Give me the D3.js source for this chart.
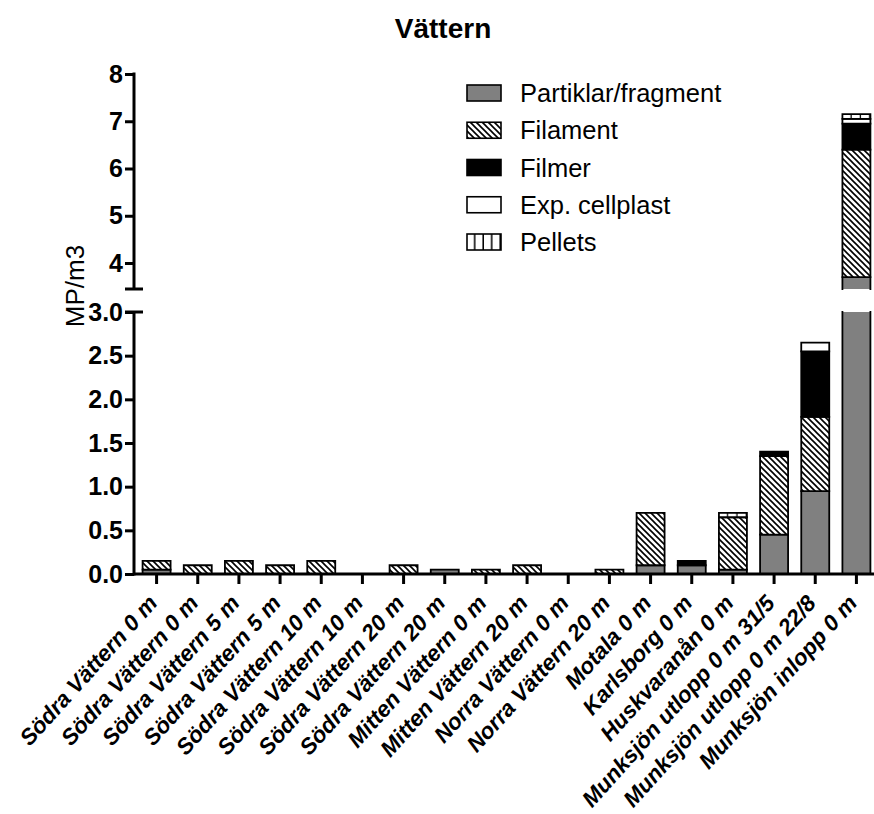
<!DOCTYPE html>
<html>
<head>
<meta charset="utf-8">
<script src="https://cdn.jsdelivr.net/npm/d3@7"></script>
<style>
  html, body { margin: 0; padding: 0; background: #fff; }
  svg { display: block; font-family: "Liberation Sans", Arial, sans-serif; }
</style>
</head>
<body>
<svg id="chart" width="874" height="814"></svg>
<script>
const title = "Vättern";
const yLabel = "MP/m3";
const categories = [
  "Södra Vättern 0 m", "Södra Vättern 0 m", "Södra Vättern 5 m", "Södra Vättern 5 m",
  "Södra Vättern 10 m", "Södra Vättern 10 m", "Södra Vättern 20 m", "Södra Vättern 20 m",
  "Mitten Vättern 0 m", "Mitten Vättern 20 m", "Norra Vättern 0 m", "Norra Vättern 20 m",
  "Motala 0 m", "Karlsborg 0 m", "Huskvaranån 0 m", "Munksjön utlopp 0 m 31/5",
  "Munksjön utlopp 0 m 22/8", "Munksjön inlopp 0 m"
];
const seriesNames = ["Partiklar/fragment", "Filament", "Filmer", "Exp. cellplast", "Pellets"];
const partiklar = [0.05, 0, 0, 0, 0, 0, 0, 0.05, 0, 0, 0, 0, 0.1, 0.1, 0.05, 0.45, 0.95, 3.7];
const filament  = [0.1, 0.1, 0.15, 0.1, 0.15, 0, 0.1, 0, 0.05, 0.1, 0, 0.05, 0.6, 0, 0.6, 0.9, 0.85, 2.7];
const filmer    = [0, 0, 0, 0, 0, 0, 0, 0, 0, 0, 0, 0, 0, 0.05, 0, 0.05, 0.75, 0.55];
const cellplast = [0, 0, 0, 0, 0, 0, 0, 0, 0, 0, 0, 0, 0, 0, 0, 0, 0.1, 0.1];
const pellets   = [0, 0, 0, 0, 0, 0, 0, 0, 0, 0, 0, 0, 0, 0, 0.05, 0, 0, 0.1];
const lowTicks = [0, 0.5, 1, 1.5, 2, 2.5, 3];
const highTicks = [4, 5, 6, 7, 8];
const lowDomain = [0, 3];
const highDomain = [3.45, 8];

const svg = d3.select("#chart");
const defs = svg.append("defs");

// hatch pattern (\\\\)
const hatch = defs.append("pattern").attr("id", "hatch")
  .attr("patternUnits", "userSpaceOnUse").attr("width", 6).attr("height", 6);
hatch.append("rect").attr("width", 6).attr("height", 6).attr("fill", "#fff");
hatch.append("path").attr("d", "M-1,-1 L7,7 M-4,2 L2,8 M4,-2 L10,4")
  .attr("stroke", "#000").attr("stroke-width", 1.6);

function pelletPattern(id, n) {
  const p = defs.append("pattern").attr("id", id)
    .attr("patternUnits", "objectBoundingBox").attr("patternContentUnits", "objectBoundingBox")
    .attr("width", 1 / n).attr("height", 1);
  p.append("rect").attr("width", 1 / n).attr("height", 1).attr("fill", "#fff");
  p.append("rect").attr("x", 1 / n - 0.045).attr("width", 0.045).attr("height", 1).attr("fill", "#000");
}
pelletPattern("pellets3", 3);
pelletPattern("pellets4", 4);

const fills = ["#808080", "url(#hatch)", "#000000", "#ffffff", "url(#pellets3)"];
const legendFills = ["#808080", "url(#hatch)", "#000000", "#ffffff", "url(#pellets4)"];

const axisX = 134;
const x = d3.scaleBand().domain(d3.range(categories.length)).range([axisX + 2, 877]).paddingInner(0.32).paddingOuter(0.16);
const yLow = d3.scaleLinear().domain(lowDomain).range([574, 312]);
const yHigh = d3.scaleLinear().domain(highDomain).range([289, 74]);

const series = [partiklar, filament, filmer, cellplast, pellets];
const rows = categories.map((c, i) => {
  const o = { i };
  seriesNames.forEach((s, k) => o[s] = series[k][i]);
  return o;
});
const stack = d3.stack().keys(seriesNames)(rows);

const barsG = svg.append("g");
stack.forEach((layer, k) => {
  layer.forEach((d, i) => {
    const v0 = d[0], v1 = d[1];
    if (v1 - v0 <= 0) return;
    const segs = [];
    if (v0 < lowDomain[1]) segs.push({ s: yLow, a: v0, b: Math.min(v1, lowDomain[1]), clipTop: v1 > lowDomain[1], clipBot: false });
    if (v1 > highDomain[0]) segs.push({ s: yHigh, a: Math.max(v0, highDomain[0]), b: v1, clipTop: false, clipBot: v0 < highDomain[0] });
    segs.forEach(sg => {
      const x0 = x(i), w = x.bandwidth();
      const yt = sg.s(sg.b), yb = sg.s(sg.a);
      barsG.append("rect").attr("x", x0).attr("y", yt).attr("width", w).attr("height", yb - yt)
        .attr("fill", fills[k]);
      let p = `M${x0},${yt}L${x0},${yb}M${x0 + w},${yt}L${x0 + w},${yb}`;
      if (!sg.clipTop) p += `M${x0},${yt}L${x0 + w},${yt}`;
      if (!sg.clipBot) p += `M${x0},${yb}L${x0 + w},${yb}`;
      barsG.append("path").attr("d", p).attr("stroke", "#000").attr("stroke-width", 1.8)
        .attr("fill", "none").attr("stroke-linecap", "square");
    });
  });
});

// Axes
const lw = 3;
function styleAxis(g) {
  g.select(".domain").remove();
  g.selectAll(".tick line").attr("stroke", "#000").attr("stroke-width", lw);
  g.selectAll(".tick text").attr("fill", "#000").attr("font-weight", "bold")
    .attr("font-size", 25).attr("font-family", "'Liberation Sans', Arial, sans-serif");
}
const gLow = svg.append("g").attr("transform", `translate(${axisX},0)`)
  .call(d3.axisLeft(yLow).tickValues(lowTicks).tickFormat(d3.format(".1f")).tickSize(9).tickPadding(2));
styleAxis(gLow);
const gHigh = svg.append("g").attr("transform", `translate(${axisX},0)`)
  .call(d3.axisLeft(yHigh).tickValues(highTicks).tickFormat(d3.format("d")).tickSize(9).tickPadding(2));
styleAxis(gHigh);

// axis lines
const axG = svg.append("g").attr("stroke", "#000").attr("stroke-width", lw).attr("fill", "none");
axG.append("line").attr("x1", axisX).attr("x2", axisX).attr("y1", yLow(0) + lw / 2).attr("y2", yLow(lowDomain[1]));
axG.append("line").attr("x1", axisX - 9).attr("x2", axisX + 9).attr("y1", yLow(lowDomain[1])).attr("y2", yLow(lowDomain[1]));
axG.append("line").attr("x1", axisX).attr("x2", axisX).attr("y1", yHigh(highDomain[0])).attr("y2", yHigh(8) - lw / 2);
axG.append("line").attr("x1", axisX - 9).attr("x2", axisX + 9).attr("y1", yHigh(highDomain[0])).attr("y2", yHigh(highDomain[0]));
axG.append("line").attr("x1", axisX).attr("x2", 877).attr("y1", yLow(0)).attr("y2", yLow(0));

// x axis ticks and labels
const gx = svg.append("g").attr("transform", `translate(0,${yLow(0)})`)
  .call(d3.axisBottom(x).tickSize(10).tickSizeOuter(0).tickFormat(i => categories[i]));
gx.select(".domain").remove();
gx.selectAll(".tick line").attr("stroke", "#000").attr("stroke-width", lw);
gx.selectAll(".tick text")
  .attr("fill", "#000").attr("font-weight", "bold").attr("font-style", "italic")
  .attr("font-size", 22.5).attr("font-family", "'Liberation Sans', Arial, sans-serif")
  .attr("text-anchor", "end").attr("dy", null).attr("y", 0)
  .attr("transform", "translate(2,30) rotate(-48)");

// Y label
svg.append("text").attr("transform", `translate(84,286) rotate(-90)`)
  .attr("text-anchor", "middle").attr("font-size", 26).attr("fill", "#000").text(yLabel);

// title
svg.append("text").attr("x", 443).attr("y", 38).attr("text-anchor", "middle")
  .attr("font-size", 28).attr("font-weight", "bold").attr("fill", "#000").text(title);

// legend
const leg = svg.append("g");
const legY = d3.scalePoint().domain(seriesNames).range([93, 242]);
seriesNames.forEach((s, k) => {
  const yc = legY(s);
  leg.append("rect").attr("x", 467).attr("y", yc - 8).attr("width", 34).attr("height", 16)
    .attr("fill", legendFills[k]).attr("stroke", "#000").attr("stroke-width", 1.6);
  leg.append("text").attr("x", 520).attr("y", yc).attr("dy", "0.36em")
    .attr("font-size", 25.5).attr("fill", "#000").text(s);
});
</script>
</body>
</html>
